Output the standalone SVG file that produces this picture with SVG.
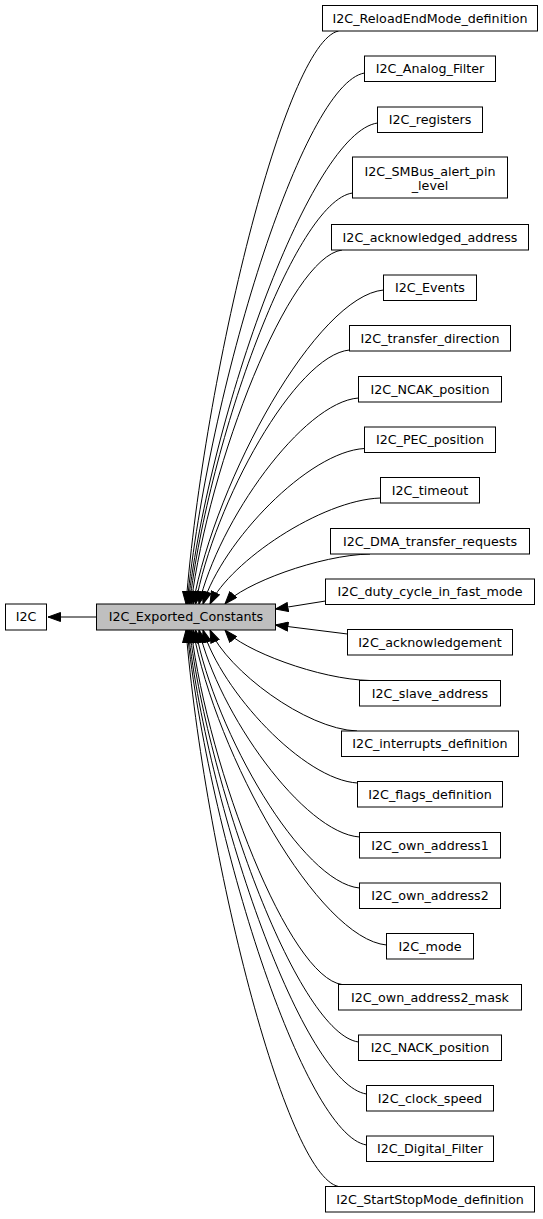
<svg xmlns="http://www.w3.org/2000/svg" width="543" height="1219" viewBox="0 0 543 1219">
<style>
rect{fill:#fff;stroke:#000;stroke-width:1}
#n_center rect{fill:#bfbfbf}
text{font-family:"DejaVu Sans","Liberation Sans",sans-serif;font-size:12.7px;text-anchor:middle;fill:#000}
#edges path{fill:none;stroke:#000;stroke-width:1;marker-end:url(#ah)}
</style>
<defs>
<marker id="ah" markerUnits="userSpaceOnUse" markerWidth="14" markerHeight="10" viewBox="0 0 14 10" refX="13" refY="5" orient="auto"><path d="M0.5,0.5 L13,5 L0.5,9.5 z" fill="#000" stroke="#000" stroke-width="1"/></marker>
</defs>
<rect x="0" y="0" width="543" height="1219" style="fill:#fff;stroke:none"/>
<g id="edges">
<path d="M96.5,617 L48,617"/>
<path d="M338.5,31 C285.1,42.5 204.3,374.8 186,604"/>
<path d="M364.5,73 C302.4,83.6 208.3,391.6 187,604"/>
<path d="M377.5,123 C311.2,132.6 210.7,411.6 188,604"/>
<path d="M352.5,193 C295.4,201.2 209.1,439.6 189.5,604"/>
<path d="M342,250 C289.1,257.1 209.1,462.4 191,604"/>
<path d="M383.5,290 C316.8,296.3 215.9,478.4 193,604"/>
<path d="M349.5,350 C295.6,355.1 214,502.4 195.5,604"/>
<path d="M358.5,398 C302.7,402.1 218.1,521.6 199,604"/>
<path d="M364.5,448.5 C308,451.6 222.4,541.8 203,604"/>
<path d="M380.5,498 C320.8,500.1 230.5,561.6 210,604"/>
<path d="M370,554 C319.25,555 242.4,584 225,604"/>
<path d="M325.5,601 L275.5,609"/>
<path d="M347.5,634 L275.5,625"/>
<path d="M370,680.5 C319.25,679.5 242.4,650.2 225,630"/>
<path d="M357,731 C305.5,729 227.6,670.4 210,630"/>
<path d="M357.5,783 C303.4,779.9 221.5,691.2 203,630"/>
<path d="M359.5,837 C303.3,832.9 218.3,712.8 199,630"/>
<path d="M359.5,888 C302.1,882.8 215.2,733.2 195.5,630"/>
<path d="M386.5,945 C318.8,938.7 216.2,756 193,630"/>
<path d="M342,984.5 C289.2,977.4 209.1,771.8 191,630"/>
<path d="M358.5,1042 C299.4,1033.8 209.8,794.8 189.5,630"/>
<path d="M366.5,1094 C304,1084.7 209.4,815.6 188,630"/>
<path d="M366.5,1145 C303.7,1134.7 208.5,836 187,630"/>
<path d="M338.5,1186.5 C285.1,1175.4 204.3,852.6 186,630"/>
</g>
<g id="n_i2c"><rect x="5.5" y="604" width="41" height="26"/><text x="26" y="621.3">I2C</text></g>
<g id="n_center"><rect x="96.5" y="604" width="179" height="26"/><text x="186" y="621.3">I2C_Exported_Constants</text></g>
<g id="n1"><rect x="322.5" y="5.5" width="215" height="25.5"/><text x="430" y="22.5">I2C_ReloadEndMode_definition</text></g>
<g id="n2"><rect x="364.5" y="56" width="131" height="25.5"/><text x="430" y="73">I2C_Analog_Filter</text></g>
<g id="n3"><rect x="377.5" y="107" width="105" height="25.5"/><text x="430" y="124">I2C_registers</text></g>
<g id="n4"><rect x="352.5" y="157" width="155" height="41"/><text x="430" y="175.5">I2C_SMBus_alert_pin</text><text x="430" y="189.5">_level</text></g>
<g id="n5"><rect x="331.5" y="224.5" width="197" height="25.5"/><text x="430" y="241.5">I2C_acknowledged_address</text></g>
<g id="n6"><rect x="383.5" y="275" width="93" height="25.5"/><text x="430" y="292">I2C_Events</text></g>
<g id="n7"><rect x="349.5" y="325.5" width="161" height="25.5"/><text x="430" y="342.5">I2C_transfer_direction</text></g>
<g id="n8"><rect x="358.5" y="376.5" width="143" height="25.5"/><text x="430" y="393.5">I2C_NCAK_position</text></g>
<g id="n9"><rect x="364.5" y="427" width="131" height="25.5"/><text x="430" y="444">I2C_PEC_position</text></g>
<g id="n10"><rect x="380.5" y="477.5" width="99" height="25.5"/><text x="430" y="494.5">I2C_timeout</text></g>
<g id="n11"><rect x="330.5" y="528.5" width="199" height="25.5"/><text x="430" y="545.5">I2C_DMA_transfer_requests</text></g>
<g id="n12"><rect x="325.5" y="579" width="209" height="25.5"/><text x="430" y="596">I2C_duty_cycle_in_fast_mode</text></g>
<g id="n13"><rect x="347.5" y="629.5" width="165" height="25.5"/><text x="430" y="646.5">I2C_acknowledgement</text></g>
<g id="n14"><rect x="359.5" y="680.5" width="141" height="25.5"/><text x="430" y="697.5">I2C_slave_address</text></g>
<g id="n15"><rect x="341.5" y="731" width="177" height="25.5"/><text x="430" y="748">I2C_interrupts_definition</text></g>
<g id="n16"><rect x="357.5" y="781.5" width="145" height="25.5"/><text x="430" y="798.5">I2C_flags_definition</text></g>
<g id="n17"><rect x="359.5" y="832.5" width="141" height="25.5"/><text x="430" y="849.5">I2C_own_address1</text></g>
<g id="n18"><rect x="359.5" y="883" width="141" height="25.5"/><text x="430" y="900">I2C_own_address2</text></g>
<g id="n19"><rect x="386.5" y="933.5" width="87" height="25.5"/><text x="430" y="950.5">I2C_mode</text></g>
<g id="n20"><rect x="338.5" y="984.5" width="183" height="25.5"/><text x="430" y="1001.5">I2C_own_address2_mask</text></g>
<g id="n21"><rect x="358.5" y="1035" width="143" height="25.5"/><text x="430" y="1052">I2C_NACK_position</text></g>
<g id="n22"><rect x="366.5" y="1085.5" width="127" height="25.5"/><text x="430" y="1102.5">I2C_clock_speed</text></g>
<g id="n23"><rect x="366.5" y="1136" width="127" height="25.5"/><text x="430" y="1153">I2C_Digital_Filter</text></g>
<g id="n24"><rect x="325.5" y="1186.5" width="209" height="25.5"/><text x="430" y="1203.5">I2C_StartStopMode_definition</text></g>
</svg>
